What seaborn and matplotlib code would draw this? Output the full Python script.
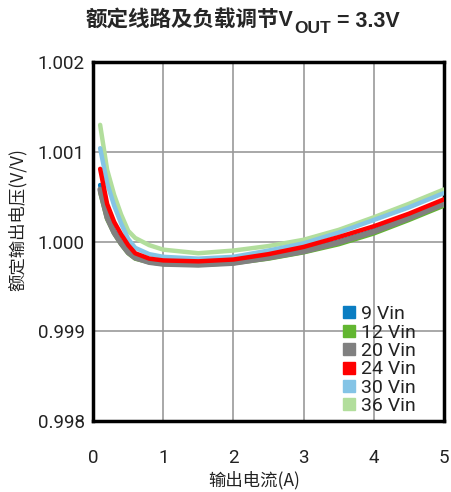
import pandas as pd
import matplotlib.pyplot as plt
from matplotlib.lines import Line2D
import seaborn as sns

current = [0.1, 0.2, 0.3, 0.4, 0.5, 0.6, 0.8, 1.0, 1.5, 2.0, 2.5, 3.0, 3.5, 4.0, 4.5, 5.0]
series = ["9 Vin", "12 Vin", "20 Vin", "24 Vin", "30 Vin", "36 Vin"]
v9 = [1.00063, 1.00030, 1.00012, 0.99999, 0.99989, 0.99983, 0.99978, 0.99976, 0.99975, 0.99977,
      0.99983, 0.99990, 1.00000, 1.00012, 1.00027, 1.00043]
v12 = [1.00055, 1.00025, 1.00009, 0.99997, 0.99987, 0.99981, 0.99977, 0.99975, 0.99974, 0.99976,
       0.99981, 0.99988, 0.99997, 1.00009, 1.00024, 1.00040]
v20 = [1.00058, 1.00027, 1.00010, 0.99998, 0.99988, 0.99982, 0.99977, 0.99975, 0.99974, 0.99976,
       0.99982, 0.99989, 0.99999, 1.00011, 1.00026, 1.00042]
v24 = [1.00081, 1.00042, 1.00022, 1.00008, 0.99996, 0.99987, 0.99981, 0.99979, 0.99978, 0.99980,
       0.99986, 0.99994, 1.00005, 1.00017, 1.00031, 1.00047]
v30 = [1.00104, 1.00065, 1.00040, 1.00020, 1.00003, 0.99993, 0.99986, 0.99983, 0.99981, 0.99983,
       0.99990, 0.99998, 1.00010, 1.00024, 1.00038, 1.00054]
v36 = [1.00130, 1.00080, 1.00052, 1.00030, 1.00012, 1.00004, 0.99996, 0.99991, 0.99987, 0.99990,
       0.99995, 1.00002, 1.00013, 1.00027, 1.00042, 1.00058]
colors = ["#0A7DC2", "#62B631", "#808080", "#FF0000", "#84C4E6", "#B2DE9C"]

rows = []
for name, vals in zip(series, [v9, v12, v20, v24, v30, v36]):
    for x, y in zip(current, vals):
        rows.append({"current": x, "ratio": y, "vin": name})
df = pd.DataFrame(rows)

sns.set_theme(style="white")
plt.rcParams["font.family"] = ["Roboto", "Noto Sans CJK SC", "DejaVu Sans"]

fig = plt.figure(figsize=(4.52, 4.92), dpi=100)
ax = fig.add_axes([0.206, 0.144, 0.776, 0.730])

# draw order: 9, 12, 20, then 36, 30, 24 on top
widths = {"9 Vin": 3.2, "12 Vin": 3.2, "20 Vin": 4.0, "24 Vin": 3.2, "30 Vin": 3.2, "36 Vin": 3.2}
order = ["9 Vin", "12 Vin", "20 Vin", "36 Vin", "30 Vin", "24 Vin"]
pal = dict(zip(series, colors))
for i, name in enumerate(order):
    sub = df[df["vin"] == name]
    sns.lineplot(data=sub, x="current", y="ratio", color=pal[name], lw=widths[name],
                 ax=ax, zorder=3 + i, legend=False)

ax.set_xlim(0, 5)
ax.set_ylim(0.998, 1.002)
ax.set_xticks([0, 1, 2, 3, 4, 5])
ax.set_yticks([0.998, 0.999, 1.000, 1.001, 1.002])
ax.set_yticklabels(["0.998", "0.999", "1.000", "1.001", "1.002"])
ax.grid(True, color="#999999", lw=1.2)
ax.tick_params(labelsize=13.5, length=0, colors="#222222")
ax.tick_params(axis="x", pad=20)
ax.tick_params(axis="y", pad=6)
for s in ax.spines.values():
    s.set_color("black")
    s.set_linewidth(2.5)

ax.set_xlabel("输出电流(A)", fontsize=12.5, family=["Noto Sans CJK SC"], color="#222222")
ax.xaxis.set_label_coords(0.46, -0.138)
ax.set_ylabel("额定输出电压(V/V)", fontsize=12.5, family=["Noto Sans CJK SC"], color="#222222")
ax.yaxis.set_label_coords(-0.188, 0.56)

# title: CJK part + V with subscript OUT + rest
tfam = ["Liberation Sans", "Noto Sans CJK SC"]
ty = 0.957
renderer = fig.canvas.get_renderer()
t1 = fig.text(86 / 452, ty, "额定线路及负载调节V", ha="left", va="center",
              fontsize=15.5, fontweight="bold", family=tfam)
bb = t1.get_window_extent(renderer)
t2 = fig.text(bb.x1 / 452, ty - 0.015, "OUT", ha="left", va="center",
              fontsize=12.5, fontweight="bold", family=tfam)
bb2 = t2.get_window_extent(renderer)
fig.text(bb2.x1 / 452, ty, " = 3.3V", ha="left", va="center",
         fontsize=15.5, fontweight="bold", family=tfam)

handles = [Line2D([], [], marker="s", ls="none", color=c, markersize=8.5) for c in colors]
leg = ax.legend(handles, series, loc="upper left", frameon=False, fontsize=14,
                handlelength=0.6, handletextpad=0.35, labelspacing=0.02,
                borderpad=0, borderaxespad=0, bbox_to_anchor=(0.712, 0.323))
leg.set_zorder(20)
for t in leg.get_texts():
    t.set_color("#222222")

fig.savefig("out.png", dpi=100)
